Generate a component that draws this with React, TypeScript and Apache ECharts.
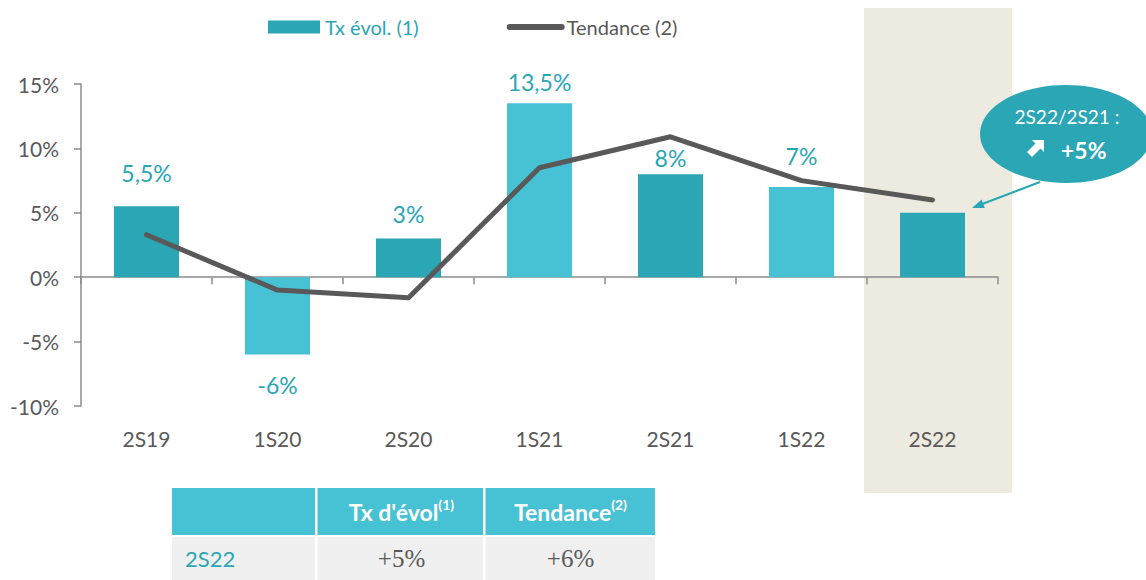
import React, { useEffect, useRef } from "react";
import * as echarts from "echarts";

const categories = ["2S19", "1S20", "2S20", "1S21", "2S21", "1S22", "2S22"];
const txEvol = [5.5, -6, 3, 13.5, 8, 7, 5];
const tendance = [3.3, -1.0, -1.6, 8.5, 10.9, 7.5, 6.0];
const seriesNames = ["Tx évol. (1)", "Tendance (2)"];
const yMin = -10;
const yMax = 15;
const yInterval = 5;
const calloutTitle = "2S22/2S21 :";
const calloutValue = "+5%";
const tableHeader = ["", "Tx d'évol", "Tendance"];
const tableHeaderSup = ["", "(1)", "(2)"];
const tableRow = ["2S22", "+5%", "+6%"];

// layout tweaks (label gap per bar, last bar has no label)
const labelGaps = [22, 19, 13, 10, 5, 20, 0];

const DARK = "#2AA6B5";
const LIGHT = "#47C1D4";
const GREY = "#595959";
const FONT = "Lato, 'Noto Sans', sans-serif";
const CLEAR = "rgba(0,0,0,0)";

function fmt(v: number) {
  return String(v).replace(".", ",") + "%";
}

export default function App() {
  const ref = useRef<HTMLDivElement>(null);
  useEffect(() => {
    document.body.style.margin = "0";
    const chart = echarts.init(ref.current!, undefined, { renderer: "svg" });

    const barData = txEvol.map((v, i) => ({
      value: v,
      itemStyle: { color: i % 2 === 0 ? DARK : LIGHT },
      label: {
        show: i < txEvol.length - 1,
        position: v < 0 ? "bottom" : "top",
        distance: labelGaps[i],
      },
    }));

    const colX = [172, 317, 486, 655];
    const headerY = 488, headerH = 47, rowY = 537, rowH = 43;
    const tableEls: any[] = [];
    tableEls.push({ type: "rect", shape: { x: 172, y: headerY, width: 483, height: headerH }, style: { fill: LIGHT } });
    tableEls.push({ type: "rect", shape: { x: 172, y: rowY, width: 483, height: rowH }, style: { fill: "#F0F0F0" } });
    [315, 483].forEach((x) => {
      tableEls.push({ type: "rect", shape: { x, y: headerY, width: 2.5, height: headerH + rowH + 2 }, style: { fill: "#FFFFFF" } });
    });
    for (let c = 1; c < 3; c++) {
      const cx = (colX[c] + colX[c + 1]) / 2;
      tableEls.push({
        type: "text",
        x: cx,
        y: headerY + headerH / 2,
        style: {
          text: `{m|${tableHeader[c]}}{s|${tableHeaderSup[c]}}`,
          align: "center",
          verticalAlign: "middle",
          rich: {
            m: { fontFamily: FONT, fontWeight: "bold", fontSize: 23, fill: "#FFFFFF", lineHeight: 28 },
            s: { fontFamily: FONT, fontWeight: "bold", fontSize: 14, fill: "#FFFFFF", lineHeight: 28, verticalAlign: "top", padding: [0, 0, 10, 0] },
          },
        },
      });
    }
    tableEls.push({
      type: "text", x: 185, y: rowY + rowH / 2,
      style: { text: tableRow[0], fontFamily: FONT, fontSize: 22, fill: DARK, verticalAlign: "middle", align: "left" },
    });
    for (let c = 1; c < 3; c++) {
      const cx = (colX[c] + colX[c + 1]) / 2;
      tableEls.push({
        type: "text", x: cx, y: rowY + rowH / 2,
        style: { text: tableRow[c], fontFamily: "'Liberation Serif', 'DejaVu Serif', serif", fontSize: 25, fill: GREY, align: "center", verticalAlign: "middle" },
      });
    }

    // arrow icon in callout
    const ix = 1027, iy = 140;
    const arrowPts = [[17, 0], [5, 0], [8.5, 3.5], [0, 12], [5, 17], [13.5, 8.5], [17, 12]].map((p) => [p[0] + ix, p[1] + iy]);

    const callout: any[] = [
      { type: "line", shape: { x1: 1040, y1: 182, x2: 981, y2: 204.5 }, style: { stroke: DARK, lineWidth: 2 }, z: 10 },
      { type: "polygon", shape: { points: [[972, 208], [984.8, 207.9], [981.6, 199.5]] }, style: { fill: DARK }, z: 10 },
      { type: "ellipse", shape: { cx: 1066, cy: 134, rx: 86, ry: 49 }, style: { fill: DARK }, z: 11 },
      { type: "text", x: 1067, y: 116, style: { text: calloutTitle, fontFamily: FONT, fontSize: 19, fill: "#FFFFFF", align: "center", verticalAlign: "middle" }, z: 12 },
      { type: "polygon", shape: { points: arrowPts }, style: { fill: "#FFFFFF" }, z: 12 },
      { type: "text", x: 1061, y: 150, style: { text: calloutValue, fontFamily: FONT, fontSize: 23, fontWeight: "bold", fill: "#FFFFFF", align: "left", verticalAlign: "middle" }, z: 12 },
    ];

    chart.setOption({
      animation: false,
      textStyle: { fontFamily: FONT },
      legend: {
        left: 268,
        top: 17,
        padding: 0,
        itemWidth: 52,
        itemHeight: 13,
        itemGap: 88,
        textStyle: { fontSize: 20, fontFamily: FONT },
        data: [
          { name: seriesNames[0], icon: "rect", itemStyle: { color: DARK }, textStyle: { color: DARK } },
          {
            name: seriesNames[1],
            itemStyle: { color: CLEAR, borderColor: CLEAR, borderWidth: 0 },
            lineStyle: { width: 6, cap: "round", color: GREY },
            textStyle: { color: GREY },
          },
        ],
      },
      grid: { left: 81, right: 148, top: 84, bottom: 174 },
      xAxis: [
        {
          type: "category",
          data: categories,
          position: "bottom",
          axisLine: { show: false, onZero: false },
          axisTick: { show: false },
          axisLabel: { color: GREY, fontSize: 21, margin: 22, fontFamily: FONT },
        },
        {
          type: "category",
          data: categories,
          position: "bottom",
          axisLine: { show: true, onZero: true, lineStyle: { color: "#8C8C8C", width: 1.5 } },
          axisTick: { show: true, interval: 0, length: 7, lineStyle: { color: "#8C8C8C", width: 1.5 } },
          axisLabel: { show: false },
        },
      ],
      yAxis: {
        type: "value",
        min: yMin,
        max: yMax,
        interval: yInterval,
        splitLine: { show: false },
        axisLine: { show: true, lineStyle: { color: "#8C8C8C", width: 1.5 } },
        axisTick: { show: true, length: 7, lineStyle: { color: "#8C8C8C", width: 1.5 } },
        axisLabel: { color: GREY, fontSize: 21, margin: 22, formatter: (v: number) => v + "%", fontFamily: FONT },
      },
      series: [
        {
          name: seriesNames[0],
          type: "bar",
          xAxisIndex: 0,
          barWidth: 65,
          data: barData,
          itemStyle: { color: DARK },
          label: { color: DARK, fontSize: 23, fontFamily: FONT, formatter: (p: any) => fmt(p.value) },
          z: 2,
        },
        {
          name: seriesNames[1],
          type: "line",
          xAxisIndex: 0,
          data: tendance,
          symbol: "none",
          itemStyle: { color: GREY },
          lineStyle: { color: GREY, width: 5, cap: "round", join: "round" },
          z: 3,
        },
      ],
      graphic: [
        { type: "rect", shape: { x: 864, y: 8, width: 148, height: 485 }, style: { fill: "#EDEAE0" }, z: -10, silent: true },
        ...tableEls,
        ...callout,
      ],
    });
    return () => chart.dispose();
  }, []);
  return <div ref={ref} style={{ width: 1146, height: 580 }} />;
}
